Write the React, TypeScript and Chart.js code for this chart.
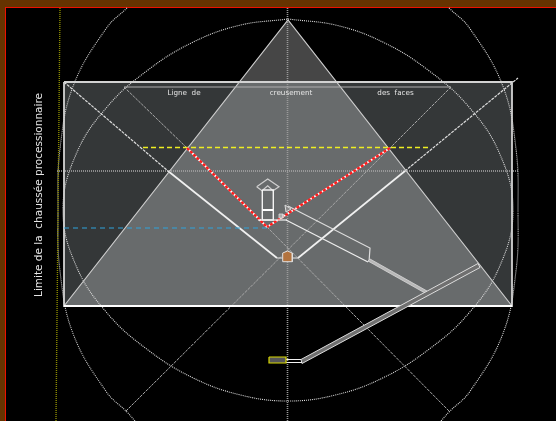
import React, { useEffect, useRef } from "react";
import { Chart, registerables } from "chart.js";

Chart.register(...registerables);

type P = [number, number];

// Plan geometry (x, y in the picture's own units)
const rectangle: P[] = [[64, 82], [512, 82], [512, 306], [64, 306], [64, 82]];
const triangleLower: P[] = [[239.5, 82], [336.5, 82], [512, 306], [64, 306]];
const triangleUpper: P[] = [[288, 20], [336.5, 82], [239.5, 82]];
const triangleOutline: P[] = [[64, 306], [288, 20], [512, 306]];
const baseLine: P[] = [[64, 306], [512, 306]];
const trenchLine: P[] = [[124, 87], [451, 87]];
const verticalAxis: P[] = [[287.5, 8], [287.5, 421]];
const horizontalAxis: P[] = [[57, 171], [518, 171]];
const causeway: P[] = [[60, 8], [56, 421]];
const yellowLevel: P[] = [[143, 147.5], [430, 147.5]];
const blueLevel: P[] = [[64, 228], [267, 228]];
const redLeft: P[] = [[187, 148], [267, 227]];
const redRight: P[] = [[390, 148], [267, 227]];
const thinDiagonalA: P[] = [[124, 87], [187, 148], [267, 227], [450, 412]];
const thinDiagonalB: P[] = [[451, 87], [390, 148], [125, 412]];
const outerDiagonalLeft: P[] = [[64, 82], [168, 171]];
const innerDiagonalLeft: P[] = [[168, 171], [277, 258]];
const innerDiagonalRight: P[] = [[298, 258], [405, 171]];
const outerDiagonalRight: P[] = [[405, 171], [518, 78]];

const innerArc: P[] = [
  [288, 19], [337.4, 25.5], [384.5, 42.9], [428, 70], [468.1, 106], [499.5, 153.3], [513, 210],
  [499.5, 266.7], [468.1, 314], [428, 350], [384.5, 377.1], [337.4, 394.5], [288, 401],
  [238.6, 394.5], [191.5, 377.1], [148, 350], [107.9, 314], [76.5, 266.7], [63, 210],
  [76.5, 153.3], [107.9, 106], [148, 70], [191.5, 42.9], [238.6, 25.5], [288, 19],
];
const outerArcRight: P[] = [
  [449, 8], [469.7, 28.3], [502.8, 86], [516, 149], [518, 210], [516, 271], [502.8, 334],
  [469.7, 391.7], [449, 412], [441, 421],
];
const outerArcLeft: P[] = [
  [127, 8], [106.3, 28.3], [73.2, 86], [60, 149], [58, 210], [60, 271], [73.2, 334],
  [106.3, 391.7], [127, 412], [135, 421],
];

const gableRoof: P[] = [
  [256.7, 186.7], [267.7, 179], [279, 186.7], [273, 190.7], [267.7, 185.7], [262, 190.7], [256.7, 186.7],
];
const shaftBox: P[] = [[262.3, 190], [273.3, 190], [273.3, 220], [262.3, 220], [262.3, 190]];
const shaftBar: P[] = [[262.3, 210], [273.3, 210]];
const floorLine: P[] = [[258, 220], [287, 220]];
const smallWedge: P[] = [[285, 205], [291, 209], [286, 212], [285, 205]];
const smallBlock: P[] = [[279, 214], [283, 214], [283, 218], [279, 218], [279, 214]];
const corridorTop: P[] = [[288, 206], [370, 248], [369, 262]];
const corridorBottom: P[] = [[286, 220], [368, 262]];
const galleryDown: P[] = [[370, 259], [427, 291], [425, 293], [368, 261], [370, 259]];
const galleryUp: P[] = [[301, 359.5], [478, 263.5], [480, 267.5], [302, 363.5], [301, 359.5]];
const pipeTop: P[] = [[286, 359.5], [301, 359.5]];
const pipeBottom: P[] = [[286, 362.5], [302, 362.5]];
const yellowBox: P[] = [[269, 357], [286, 357], [286, 363], [269, 363], [269, 357]];
const chamber: P[] = [
  [282.7, 253], [287.5, 251], [292.3, 253], [292.3, 261.7], [282.7, 261.7], [282.7, 253],
];
const chamberLinkLeft: P[] = [[277, 258], [282.7, 258]];
const chamberLinkRight: P[] = [[292.3, 258], [298, 258]];

const labelTexts = ["Ligne  de", "creusement", "des  faces"];
const labelXs = [184, 291, 395.5];
const labelY = 93.5;
const sideLabel = "Limite de la  chaussée processionnaire";
const sideLabelPos: P = [39, 195];

const pts = (a: P[]) => a.map(([x, y]) => ({ x, y }));
const DOT = [1, 1];

const ln = (a: P[], color: string, width = 1, dash: number[] = [], extra: any = {}) => ({
  data: pts(a),
  borderColor: color,
  borderWidth: width,
  borderDash: dash,
  pointRadius: 0,
  fill: false,
  ...extra,
});
const poly = (a: P[], fillColor: string, stroke = "rgba(0,0,0,0)", width = 0) =>
  ln(a, stroke, width, [], { fill: "shape", backgroundColor: fillColor });

const labelsPlugin = {
  id: "labels",
  afterDatasetsDraw(chart: any) {
    const { ctx, scales } = chart;
    ctx.save();
    ctx.fillStyle = "#e6e6e6";
    ctx.textAlign = "center";
    ctx.textBaseline = "middle";
    ctx.font = '7.2px "DejaVu Sans"';
    labelTexts.forEach((t, i) => {
      ctx.fillText(t, scales.x.getPixelForValue(labelXs[i]), scales.y.getPixelForValue(labelY));
    });
    ctx.translate(scales.x.getPixelForValue(sideLabelPos[0]), scales.y.getPixelForValue(sideLabelPos[1]));
    ctx.rotate(-Math.PI / 2);
    ctx.font = '10.5px "DejaVu Sans"';
    ctx.fillText(sideLabel, 0, 0);
    ctx.restore();
  },
};

export default function App() {
  const ref = useRef<HTMLCanvasElement>(null);
  useEffect(() => {
    document.body.style.margin = "0";
    document.body.style.overflow = "hidden";
    const curve = { tension: 0.4, cubicInterpolationMode: "default" };
    const paintOrder = [
      poly(rectangle, "#343738"),
      poly(triangleLower, "#686b6c"),
      poly(triangleUpper, "#464646"),
      ln(outerArcLeft, "#cfcfcf", 1.1, DOT, curve),
      ln(outerArcRight, "#dddddd", 1.1, DOT, curve),
      ln(innerArc, "#dddddd", 1.1, DOT, curve),
      ln(verticalAxis, "#9a9a9a", 1.6, DOT),
      ln(horizontalAxis, "#a8a8a8", 1.6, DOT),
      ln(causeway, "#8c8c00", 1.4, DOT),
      ln(thinDiagonalA, "#a8a8a8", 1, [3, 1]),
      ln(thinDiagonalB, "#a8a8a8", 1, [3, 1]),
      ln(outerDiagonalLeft, "#dddddd", 1.2, [3, 1]),
      ln(outerDiagonalRight, "#dddddd", 1.2, [3, 1]),
      ln(innerDiagonalLeft, "#f0f0f0", 1.7),
      ln(innerDiagonalRight, "#f0f0f0", 1.7),
      ln(triangleOutline, "#cdcdcd", 1.2),
      ln(rectangle, "#d2d2d2", 1.8),
      ln(trenchLine, "#aeaeae", 1.2),
      ln(baseLine, "#ffffff", 2.2),
      ln(yellowLevel, "#eeee22", 1.5, [5, 3]),
      ln(blueLevel, "#2ea4dc", 1.2, [5, 4]),
      ln(redLeft, "#ffffff", 2),
      ln(redRight, "#ffffff", 2),
      ln(redLeft, "#ff1c1c", 2.4, [3, 1.5]),
      ln(redRight, "#ff1c1c", 2.4, [3, 1.5]),
      ln(gableRoof, "#d0d0d0", 1.2),
      ln(shaftBox, "#f4f4f4", 1.4),
      ln(shaftBar, "#ffffff", 2),
      ln(floorLine, "#f0f0f0", 1.2),
      poly(smallWedge, "#8a8a8a", "#dddddd", 1),
      poly(smallBlock, "#aaaaaa", "#dddddd", 0.8),
      ln(corridorTop, "#dddddd", 1.2),
      ln(corridorBottom, "#eeeeee", 1.2),
      poly(galleryDown, "#b8b8b8", "#d8d8d8", 0.8),
      poly(galleryUp, "#707070", "#dcdcdc", 1),
      ln(pipeTop, "#f2f2f2", 1),
      ln(pipeBottom, "#f2f2f2", 1),
      poly(yellowBox, "#555558", "#d8d800", 1.2),
      ln(chamberLinkLeft, "#e5e5e5", 1),
      ln(chamberLinkRight, "#e5e5e5", 1),
      poly(chamber, "#b2733f", "#e0e0e0", 1),
    ];
    const chart = new Chart(ref.current!, {
      type: "line",
      data: {
        datasets: paintOrder.map((d, i) => ({ ...d, order: paintOrder.length - i })) as any,
      },
      options: {
        animation: false,
        responsive: false,
        devicePixelRatio: 1,
        layout: { padding: 0 },
        events: [],
        plugins: { legend: { display: false }, tooltip: { enabled: false } },
        scales: {
          x: { type: "linear", min: 0, max: 556, display: false },
          y: { type: "linear", min: 0, max: 421, reverse: true, display: false },
        },
      },
      plugins: [labelsPlugin],
    });
    return () => chart.destroy();
  }, []);

  return (
    <div style={{ position: "relative", width: 556, height: 421, background: "#663300", overflow: "hidden" }}>
      <div
        style={{
          position: "absolute",
          left: 5,
          top: 7,
          right: 0,
          bottom: 0,
          background: "#000",
          borderLeft: "1px solid #ee1100",
          borderTop: "1px solid #ee1100",
        }}
      />
      <canvas ref={ref} width={556} height={421} style={{ position: "absolute", left: 0, top: 0 }} />
    </div>
  );
}
